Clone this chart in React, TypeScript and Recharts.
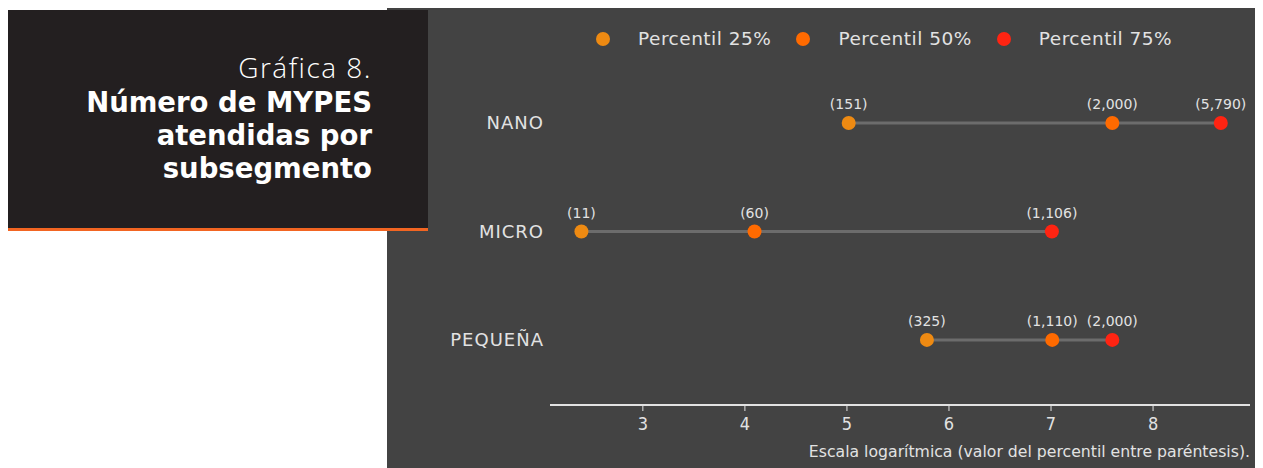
import { ScatterChart, Scatter, XAxis, YAxis, LabelList } from "recharts";

// subsegments, top to bottom
const categories = ["NANO", "MICRO", "PEQUEÑA"];
// number of MYPES attended, per percentile
const p25 = [151, 11, 325];
const p50 = [2000, 60, 1110];
const p75 = [5790, 1106, 2000];
const xTicks = [3, 4, 5, 6, 7, 8];

const seriesNames = ["Percentil 25%", "Percentil 50%", "Percentil 75%"];
const seriesColors = ["#ee8a12", "#ff6a00", "#ff2412"];
const seriesValues = [p25, p50, p75];

const rowOf = (i: number) => categories.length - 1 - i;
const fmt = (v: number) => `(${v.toLocaleString("en-US")})`;

const pointsFor = (vals: number[]) =>
  vals.map((v, i) => ({ x: Math.log(v), y: rowOf(i), label: fmt(v) }));

const rowLines = categories.map((_, i) =>
  seriesValues.map((vals) => ({ x: Math.log(vals[i]), y: rowOf(i) }))
);

const light = "#e2e2e2";
const condensed = "'DejaVu Sans Condensed', 'DejaVu Sans', sans-serif";
const wide = "'DejaVu Sans', sans-serif";

const Dot = (color: string) => (props: any) =>
  <circle cx={props.cx} cy={props.cy} r={7} fill={color} />;

export default function App() {
  return (
    <div style={{ position: "relative", width: 1255, height: 460 }}>
      <div
        style={{
          position: "absolute",
          left: 379,
          top: 0,
          width: 876,
          height: 460,
          background: "#434343",
        }}
      >
        <ScatterChart
          width={876}
          height={460}
          margin={{ top: 20, right: 13, bottom: 0, left: 0 }}
        >
          <XAxis
            type="number"
            dataKey="x"
            domain={[2.09, 8.95]}
            ticks={xTicks}
            allowDataOverflow
            height={63}
            axisLine={{ stroke: light, strokeWidth: 2 }}
            tickLine={{ stroke: light }}
            tickSize={6}
            tickMargin={6}
            tick={{ fill: light, fontSize: 18, fontFamily: condensed }}
          />
          <YAxis
            type="number"
            dataKey="y"
            domain={[-0.6, 2.876]}
            ticks={[0, 1, 2]}
            width={163}
            axisLine={false}
            tickLine={false}
            tickSize={0}
            tickMargin={6}
            tickFormatter={(v: number) => categories[categories.length - 1 - v]}
            tick={{ fill: light, fontSize: 18, fontFamily: wide, letterSpacing: 1 }}
          />
          {rowLines.map((d, i) => (
            <Scatter
              key={"line" + i}
              data={d}
              line={{ stroke: "#6c6c6c", strokeWidth: 3 }}
              shape={() => <g />}
              legendType="none"
              isAnimationActive={false}
            />
          ))}
          {seriesValues.map((vals, s) => (
            <Scatter
              key={seriesNames[s]}
              name={seriesNames[s]}
              data={pointsFor(vals)}
              shape={Dot(seriesColors[s])}
              isAnimationActive={false}
            >
              <LabelList
                dataKey="label"
                position="top"
                offset={9}
                fill={light}
                fontSize={14}
                fontFamily={wide}
              />
            </Scatter>
          ))}
        </ScatterChart>
        <div
          style={{
            position: "absolute",
            left: 209,
            top: 20,
            display: "flex",
            alignItems: "center",
            fontFamily: wide,
            fontSize: 18.5,
            letterSpacing: 0.5,
            color: light,
          }}
        >
          {seriesNames.map((n, s) => (
            <div key={n} style={{ display: "flex", alignItems: "center" }}>
              <span
                style={{
                  width: 14,
                  height: 14,
                  borderRadius: 7,
                  background: seriesColors[s],
                  marginRight: 28,
                }}
              />
              <span style={{ marginRight: 25 }}>{n}</span>
            </div>
          ))}
        </div>
        <div
          style={{
            position: "absolute",
            right: 13,
            top: 434,
            fontFamily: wide,
            fontSize: 15.7,
            color: light,
          }}
        >
          Escala logarítmica (valor del percentil entre paréntesis).
        </div>
      </div>
      <div
        style={{
          position: "absolute",
          left: 0,
          top: 2,
          width: 420,
          height: 218,
          background: "#231f20",
          borderBottom: "3px solid #f26522",
          color: "#ffffff",
          textAlign: "right",
          fontFamily: wide,
          fontSize: 27.5,
          lineHeight: "33px",
          boxSizing: "content-box",
        }}
      >
        <div style={{ position: "absolute", right: 56, top: 38 }}>
          <div
            style={{
              fontWeight: 300,
              fontFamily: "'Open Sans', sans-serif",
              fontSize: 28,
              letterSpacing: 1.5,
              lineHeight: "38px",
            }}
          >
            Gráfica 8.
          </div>
          <div style={{ fontWeight: 700 }}>Número de MYPES</div>
          <div style={{ fontWeight: 700 }}>atendidas por</div>
          <div style={{ fontWeight: 700 }}>subsegmento</div>
        </div>
      </div>
    </div>
  );
}
